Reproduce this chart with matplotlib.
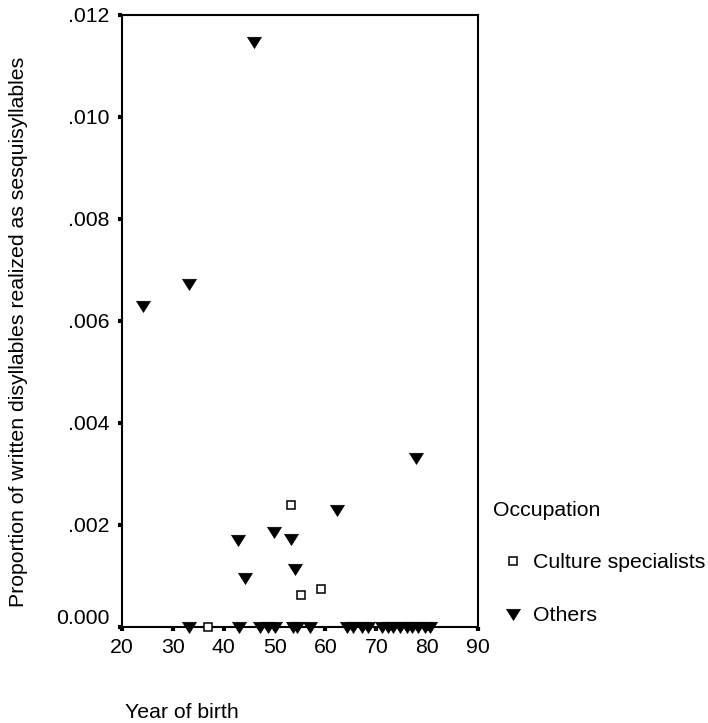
import matplotlib
matplotlib.use("Agg")
import matplotlib.pyplot as plt
from matplotlib.ticker import FixedLocator, FixedFormatter
from matplotlib.transforms import ScaledTranslation

plt.rcParams['font.family'] = ['Liberation Sans', 'DejaVu Sans']

# Data
culture_year = [53.2, 55.2, 59.1, 37.0]
culture_prop = [0.00239, 0.00063, 0.00074, 0.0]

others_year = [24.1, 33.2, 46.0, 77.9, 62.2, 42.9, 49.9, 53.2, 54.0, 44.2,
               33.2, 43.0, 47.1, 48.8, 50.1, 53.7, 54.4, 57.0, 64.2, 65.5,
               67.1, 68.4, 71.1, 72.4, 73.3, 74.7, 76.0, 77.0, 78.3, 79.6, 80.6]
others_prop = [0.0063, 0.00673, 0.01148, 0.00332, 0.00229, 0.00171, 0.00187,
               0.00173, 0.00113, 0.00097,
               0, 0, 0, 0, 0, 0, 0, 0, 0, 0, 0, 0, 0, 0, 0, 0, 0, 0, 0, 0, 0]

x_ticks = [20, 30, 40, 50, 60, 70, 80, 90]
y_ticks = [0.0, 0.002, 0.004, 0.006, 0.008, 0.010, 0.012]
y_tick_labels = ["0.000", ".002", ".004", ".006", ".008", ".010", ".012"]

legend_title = "Occupation"
series_names = ["Culture specialists", "Others"]
x_label = "Year of birth"
y_label = "Proportion of written disyllables realized as sesquisyllables"

FS = 15.3

fig = plt.figure(figsize=(7.08, 7.23), dpi=100)
ax = fig.add_axes([122/708, 1 - 627/723, (478 - 122)/708, (627 - 15)/723])

tri = [(-1.0, 0.75), (1.0, 0.75), (0.0, -0.85), (-1.0, 0.75)]

ax.plot(culture_year, culture_prop, linestyle='none', marker='s', markersize=5.5,
        markerfacecolor='white', markeredgecolor='black', markeredgewidth=1.1,
        label=series_names[0], zorder=3, clip_on=False)
ax.plot(others_year, others_prop, linestyle='none', marker=tri, markersize=10,
        markerfacecolor='black', markeredgecolor='black', markeredgewidth=0.5,
        label=series_names[1], zorder=3, clip_on=False)

ax.set_xlim(20, 90)
ax.set_ylim(0, 0.012)
ax.xaxis.set_major_locator(FixedLocator(x_ticks))
ax.yaxis.set_major_locator(FixedLocator(y_ticks))
ax.yaxis.set_major_formatter(FixedFormatter(y_tick_labels))

for s in ax.spines.values():
    s.set_linewidth(1.5)
    s.set_color('black')

ax.tick_params(axis='both', direction='out', length=3.2, width=3.0, labelsize=FS,
               colors='black')
ax.tick_params(axis='y', pad=6)
ax.tick_params(axis='x', pad=5)

# the zero label sits a little above its tick in the reference
zero_tick = ax.yaxis.get_major_ticks()[0]
zero_tick.label1.set_transform(zero_tick.label1.get_transform() +
                               ScaledTranslation(0, 11/100, fig.dpi_scale_trans))

ax.set_xlabel(x_label, fontsize=FS, ha='left', va='center')
ax.xaxis.set_label_coords(0.008, -0.1405)
ax.set_ylabel(y_label, fontsize=FS, va='center')
ax.yaxis.set_label_coords(-0.292, 0.482)

leg = ax.legend(loc='upper left', bbox_to_anchor=(478/708, 1 - 486/723),
                bbox_transform=fig.transFigure, frameon=False, fontsize=FS,
                title=legend_title, title_fontsize=FS, alignment='left',
                labelspacing=1.58, handlelength=1.88, handletextpad=0.02,
                borderpad=0.2)
for lh in leg.legend_handles:
    lh.set_clip_on(False)

fig.savefig("out.png", dpi=100, facecolor='white')
